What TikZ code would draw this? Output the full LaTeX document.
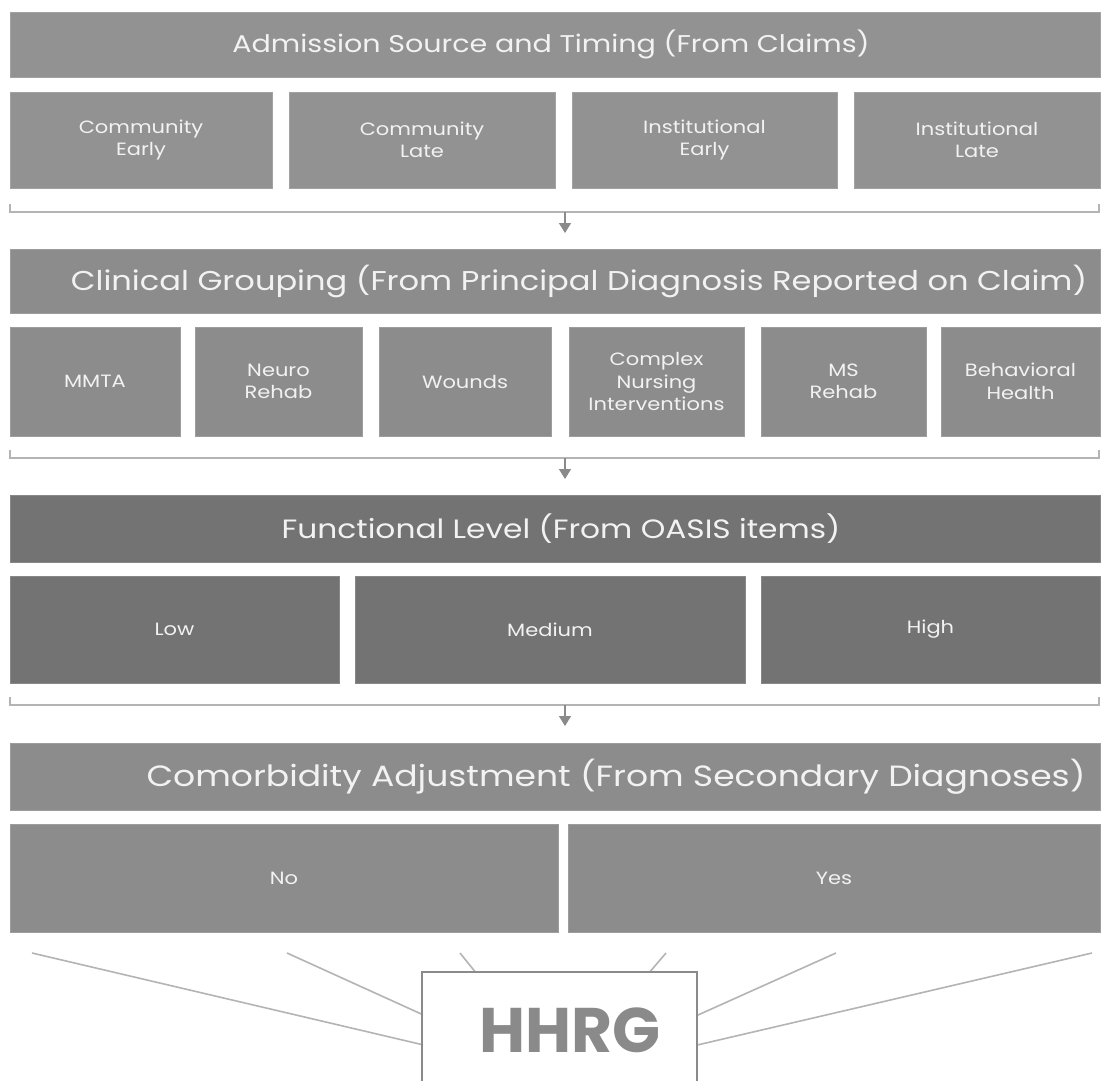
\documentclass[tikz,border=0pt]{standalone}
\usepackage{fontspec}
\setmainfont{Poppins}[FakeStretch=1.18]
\newfontfamily\hhrgfont{Poppins}
\newfontfamily\titlefont{Liberation Serif}
\usetikzlibrary{arrows.meta}
\definecolor{gA}{HTML}{929292}
\definecolor{gB}{HTML}{8C8C8C}
\definecolor{gC}{HTML}{737373}
\definecolor{gline}{HTML}{B4B4B4}
\definecolor{garrow}{HTML}{8A8A8A}
\definecolor{gtext}{HTML}{F2F2F2}
\tikzset{
  cell/.style={inner sep=0pt, draw=#1!85!white, line width=0.6pt, fill=#1, text=gtext, align=center, anchor=center},
  sub/.style={cell=#1, font=\fontsize{17.8}{22.5}\selectfont},
  hdrtext/.style={text=gtext, inner sep=0pt, anchor=center},
  bracket/.style={draw=gline, line width=1.4pt},
  downarrow/.style={draw=garrow, line width=1.4pt, -{Triangle[length=10pt,width=12pt]}},
  spoke/.style={draw=gline, line width=1.6pt},
}
\begin{document}
\begin{tikzpicture}[x=1pt,y=-1pt]
\useasboundingbox (0,0) rectangle (1101,1080);
\clip (0,0) rectangle (1101,1080);
\fill[white] (0,0) rectangle (1101,1080);
% cut-off title (above the visible area)
\node[anchor=base west, inner sep=0pt, font=\titlefont\bfseries\fontsize{31.4}{36}\selectfont] (title) at (27,-12) {Figure 4: Structure of the Proposed Patient-Driven Groupings Model (PDGM)};
% row 1
\node[cell=gA, minimum width=1090pt, minimum height=65pt] (h1) at (555,44.5) {};
\node[hdrtext, font=\fontsize{24.2}{28}\selectfont] (h1t) at (551,44.5) {Admission Source and Timing (From Claims)};
\node[sub=gA, minimum width=262pt, minimum height=96pt] (a1) at (141,140) {Community\\Early};
\node[sub=gA, minimum width=266pt, minimum height=96pt] (a2) at (422,140) {Community\\Late};
\node[sub=gA, minimum width=265pt, minimum height=96pt] (a3) at (704.5,140) {Institutional\\Early};
\node[sub=gA, minimum width=246pt, minimum height=96pt] (a4) at (977,140) {Institutional\\Late};
\coordinate (b1l) at (10,204); \coordinate (b1r) at (1099,204);
\draw[bracket] (b1l) -- ++(0,8) -| (b1r);
\coordinate (b1m) at (565,212);
% row 2
\node[cell=gB, minimum width=1090pt, minimum height=64pt] (h2) at (555,281) {};
\node[hdrtext, font=\fontsize{27.2}{31}\selectfont] (h2t) at (579,281) {Clinical Grouping (From Principal Diagnosis Reported on Claim)};
\draw[downarrow] (b1m) -- (b1m |- 0,233);
\node[sub=gB, minimum width=170pt, minimum height=109pt] (c1) at (95,381.5) {MMTA};
\node[sub=gB, minimum width=167pt, minimum height=109pt] (c2) at (278.5,381.5) {Neuro\\Rehab};
\node[sub=gB, minimum width=172pt, minimum height=109pt] (c3) at (465,381.5) {Wounds};
\node[sub=gB, minimum width=175pt, minimum height=109pt] (c4) at (656.5,381.5) {Complex\\Nursing\\Interventions};
\node[sub=gB, minimum width=165pt, minimum height=109pt] (c5) at (843.5,381.5) {MS\\Rehab};
\node[sub=gB, minimum width=159pt, minimum height=109pt] (c6) at (1020.5,381.5) {Behavioral\\Health};
\coordinate (b2l) at (10,450); \coordinate (b2r) at (1099,450);
\draw[bracket] (b2l) -- ++(0,8) -| (b2r);
\coordinate (b2m) at (565,458);
\draw[downarrow] (b2m) -- (b2m |- 0,479);
% row 3
\node[cell=gC, minimum width=1090pt, minimum height=67pt] (h3) at (555,528.5) {};
\node[hdrtext, font=\fontsize{26.5}{30}\selectfont] (h3t) at (561,528.5) {Functional Level (From OASIS items)};
\node[sub=gC, minimum width=329pt, minimum height=107pt] (f1) at (174.5,629.5) {Low};
\node[sub=gC, minimum width=390pt, minimum height=107pt] (f2) at (550,629.5) {Medium};
\node[sub=gC, minimum width=339pt, minimum height=107pt] (f3) at (930.5,629.5) {High};
\coordinate (b3l) at (10,697); \coordinate (b3r) at (1099,697);
\draw[bracket] (b3l) -- ++(0,8) -| (b3r);
\coordinate (b3m) at (565,705);
\draw[downarrow] (b3m) -- (b3m |- 0,726);
% row 4
\node[cell=gB, minimum width=1090pt, minimum height=67pt] (h4) at (555,776.5) {};
\node[hdrtext, font=\fontsize{29.3}{33}\selectfont] (h4t) at (616,776.5) {Comorbidity Adjustment (From Secondary Diagnoses)};
\node[sub=gB, minimum width=548pt, minimum height=108pt] (d1) at (284,878) {No};
\node[sub=gB, minimum width=532pt, minimum height=108pt] (d2) at (834,878) {Yes};
% spokes to HHRG
\coordinate (hub) at (560,1077);
\coordinate (s1) at (32,953);
\coordinate (s2) at (287,953);
\coordinate (s3) at (460,953);
\coordinate (s4) at (666,953);
\coordinate (s5) at (836,953);
\coordinate (s6) at (1092,953);
\foreach \s in {s1,s2,s3,s4,s5,s6} \draw[spoke] (\s) -- (hub);
\node[draw=garrow, fill=white, line width=1.4pt, inner sep=0pt, minimum width=275pt, minimum height=128pt] (hhrg) at (559.5,1036) {};
\node[text=garrow, font=\hhrgfont\bfseries\fontsize{63}{70}\selectfont, anchor=base, inner sep=0pt] (hhrgt) at (570,1052) {HHRG};
\end{tikzpicture}
\end{document}
